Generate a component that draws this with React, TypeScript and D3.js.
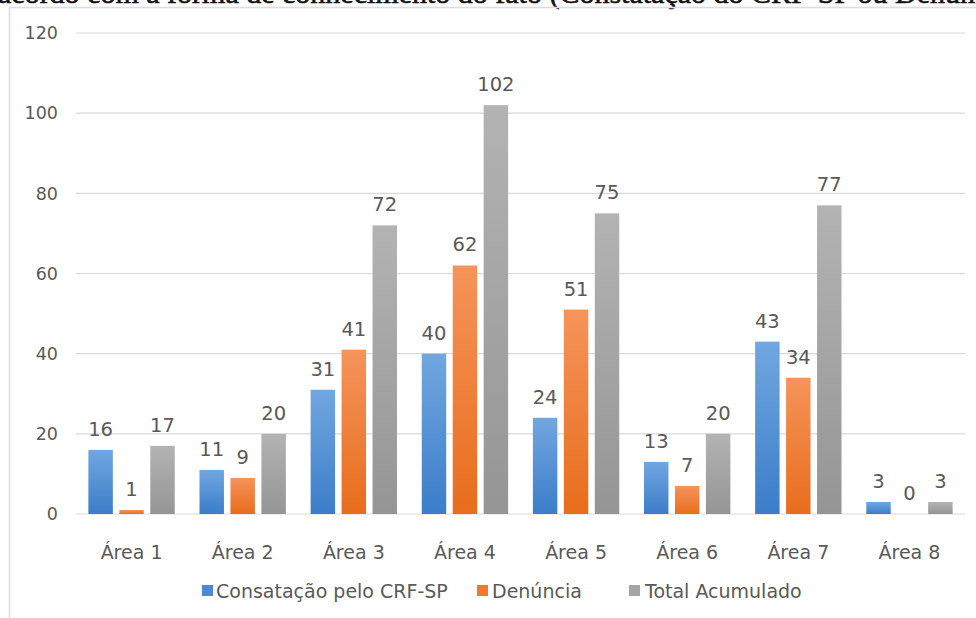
import React from "react";
import * as d3 from "d3";

const categories = ["Área 1", "Área 2", "Área 3", "Área 4", "Área 5", "Área 6", "Área 7", "Área 8"];
const constatacao = [16, 11, 31, 40, 24, 13, 43, 3];
const denuncia = [1, 9, 41, 62, 51, 7, 34, 0];
const totalAcumulado = [17, 20, 72, 102, 75, 20, 77, 3];
const seriesNames = ["Consatação pelo CRF-SP", "Denúncia", "Total Acumulado"];
const yTicks = [0, 20, 40, 60, 80, 100, 120];
const titleText = "acordo com a forma de conhecimento do fato (Constatação do CRF-SP ou Denúncia)";

const W = 976;
const H = 618;
const left = 76;
const right = 965;
const top = 33;
const bottom = 514;

const gradients = [
  { id: "gBlue", top: "#71a7e0", bottom: "#3b7dc9", legend: "#4a8ad3" },
  { id: "gOrange", top: "#f5945a", bottom: "#e86d1c", legend: "#ee7a30" },
  { id: "gGray", top: "#b3b3b3", bottom: "#959595", legend: "#a5a5a5" },
];

const font = "'DejaVu Sans', 'Open Sans', sans-serif";
const textColor = "#595959";

export default function App() {
  const x = d3.scaleBand<string>().domain(categories).range([left, right]).paddingInner(0).paddingOuter(0);
  const inner = d3
    .scaleBand<number>()
    .domain([0, 1, 2])
    .range([0, x.bandwidth()])
    .paddingOuter(0.4)
    .paddingInner(0.21);
  const y = d3.scaleLinear().domain([0, 120]).range([bottom, top]);
  const series = [constatacao, denuncia, totalAcumulado];

  return (
    <svg
      width={W}
      height={H}
      style={{ position: "fixed", left: 0, top: 0, background: "#fff" }}
      xmlns="http://www.w3.org/2000/svg"
    >
      <defs>
        {gradients.map((g) => (
          <linearGradient key={g.id} id={g.id} x1="0" y1="0" x2="0" y2="1">
            <stop offset="0%" stopColor={g.top} />
            <stop offset="100%" stopColor={g.bottom} />
          </linearGradient>
        ))}
      </defs>
      <rect x={0} y={0} width={W} height={H} fill="#fff" />
      <text
        x={-2}
        y={3}
        fontFamily="'Liberation Serif', serif"
        fontSize={30}
        fill="#111"
        stroke="#111"
        strokeWidth={0.6}
      >
        {titleText}
      </text>
      <rect x={9.5} y={7.5} width={W + 20} height={H + 20} fill="none" stroke="#dcdce4" strokeWidth={1.5} />
      {yTicks.map((t) => (
        <g key={t}>
          <line x1={left} x2={right} y1={y(t)} y2={y(t)} stroke="#d9d9d9" strokeWidth={1.2} />
          <text
            x={58}
            y={y(t)}
            dy="0.36em"
            textAnchor="end"
            fontFamily={font}
            fontSize={17.5}
            fill={textColor}
          >
            {t}
          </text>
        </g>
      ))}
      {categories.map((c, i) => (
        <g key={c}>
          {series.map((s, k) => {
            const bx = (x(c) as number) + (inner(k) as number);
            const v = s[i];
            return (
              <g key={k}>
                {v > 0 && (
                  <rect
                    x={bx}
                    y={y(v)}
                    width={inner.bandwidth()}
                    height={y(0) - y(v)}
                    fill={`url(#${gradients[k].id})`}
                  />
                )}
                <text
                  x={bx + inner.bandwidth() / 2}
                  y={y(v) - 14}
                  textAnchor="middle"
                  fontFamily={font}
                  fontSize={19.5}
                  fill={textColor}
                >
                  {v}
                </text>
              </g>
            );
          })}
          <text
            x={(x(c) as number) + x.bandwidth() / 2}
            y={559}
            textAnchor="middle"
            fontFamily={font}
            fontSize={19}
            fill={textColor}
          >
            {c}
          </text>
        </g>
      ))}
      {[
        { sx: 202, tx: 216 },
        { sx: 477, tx: 492 },
        { sx: 629, tx: 645 },
      ].map((p, k) => (
        <g key={k}>
          <rect x={p.sx} y={585} width={11} height={11} fill={gradients[k].legend} />
          <text x={p.tx} y={598} fontFamily={font} fontSize={19} fill={textColor}>
            {seriesNames[k]}
          </text>
        </g>
      ))}
    </svg>
  );
}
